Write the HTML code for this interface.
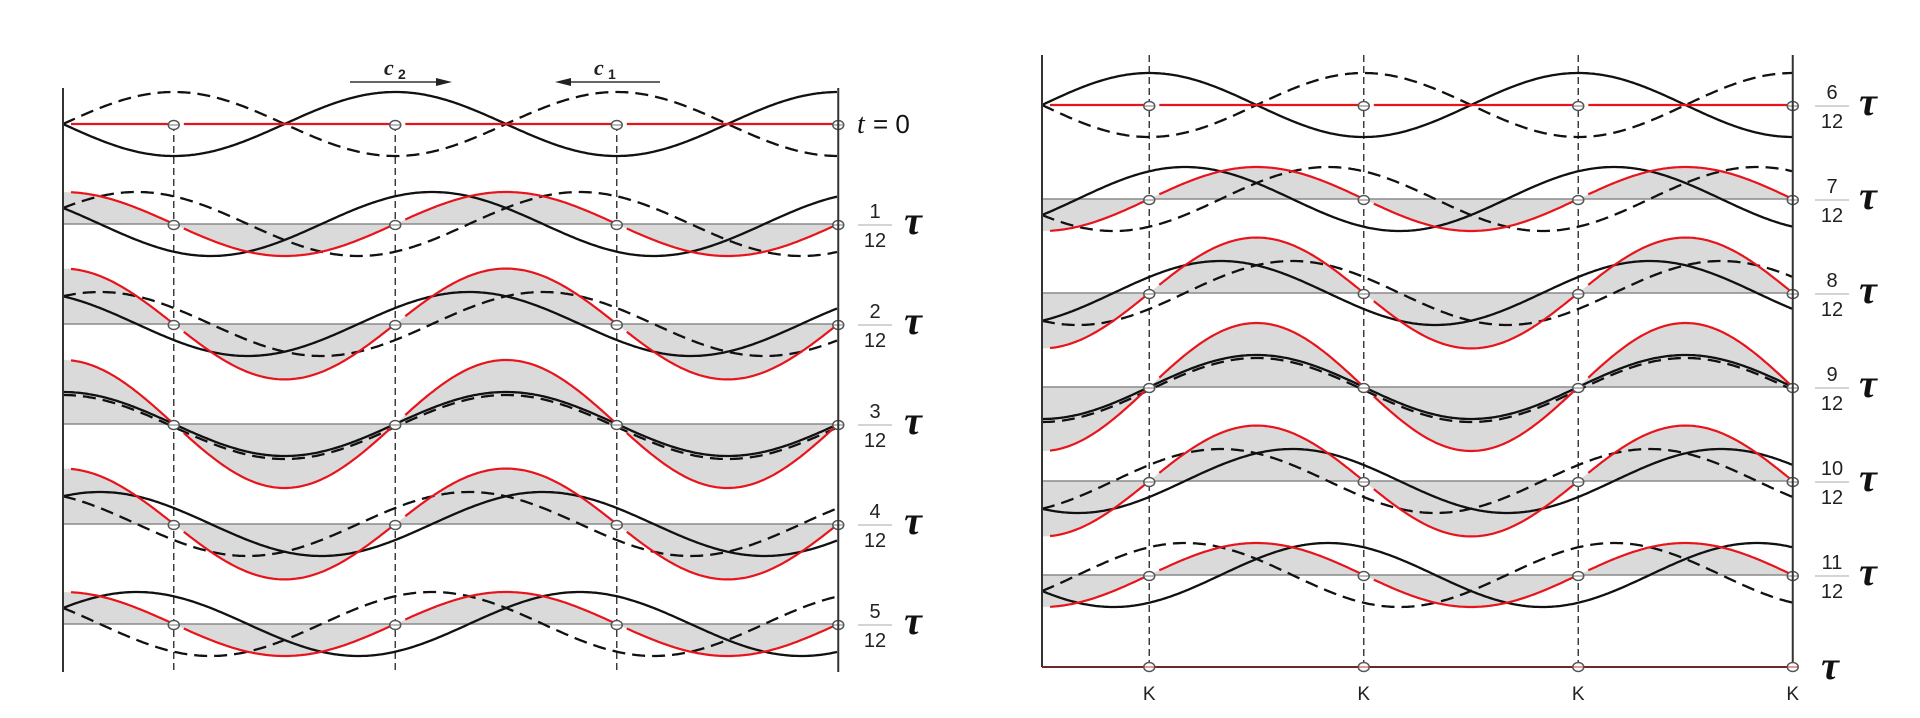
<!DOCTYPE html>
<html><head><meta charset="utf-8">
<style>
html,body{margin:0;padding:0;background:#fff;}
svg{display:block}
</style></head>
<body>
<svg id="s" width="1920" height="718" viewBox="0 0 1920 718" xmlns="http://www.w3.org/2000/svg"></svg>
<script>
const NS="http://www.w3.org/2000/svg";
const svg=document.getElementById('s');
function el(t,a,txt){const e=document.createElementNS(NS,t);for(const k in a)e.setAttribute(k,a[k]);if(txt!==undefined)e.textContent=txt;svg.appendChild(e);return e;}
const A=32;
function panel(x0,lam,rows,startN,top,vtop,bottom,labelX,tauX){
  const xe=x0+1.75*lam, k=2*Math.PI/lam;
  const nodes=[0.25,0.75,1.25,1.75].map(f=>x0+f*lam);
  rows.forEach((b,i)=>{
    const n=startN+i, ph=2*Math.PI*n/12;
    const red=x=>-A*Math.sin(k*(x-x0)-ph)+A*Math.sin(k*(x-x0)+ph);
    if(n!==0&&n!==6){
      let p=`M${x0},${b}`;
      for(let x=x0;x<=xe+0.01;x+=2)p+=` L${x.toFixed(1)},${(b-red(x)).toFixed(1)}`;
      p+=` L${xe},${b} Z`;
      el('path',{d:p,fill:'#dadada',stroke:'none'});
      el('line',{x1:x0,y1:b,x2:xe,y2:b,stroke:'#8a8a8a','stroke-width':1.5});
    }
  });
  nodes.slice(0,3).forEach(nx=>el('line',{x1:nx,y1:vtop,x2:nx,y2:bottom,stroke:'#333','stroke-width':1.4,'stroke-dasharray':'7 4'}));
  rows.forEach((b,i)=>{
    const n=startN+i, ph=2*Math.PI*n/12;
    const f1=x=>-A*Math.sin(k*(x-x0)-ph), f2=x=>A*Math.sin(k*(x-x0)+ph);
    const off=(n===3||n===9)?3:0;
    let p1='',p2='';
    for(let x=x0;x<=xe+0.01;x+=2){
      p1+=(p1?' L':'M')+x.toFixed(1)+','+(b-f1(x)).toFixed(1);
      p2+=(p2?' L':'M')+x.toFixed(1)+','+(b-f2(x)+off).toFixed(1);
    }
    el('path',{d:p2,fill:'none',stroke:'#111','stroke-width':2.3,'stroke-dasharray':'13 7'});
    el('path',{d:p1,fill:'none',stroke:'#111','stroke-width':2.3});
    const segs=[[x0+8,nodes[0]],[nodes[0]+10,nodes[1]],[nodes[1]+10,nodes[2]],[nodes[2]+10,nodes[3]]];
    segs.forEach(([a,c])=>{
      let p='';
      for(let x=a;x<=c+0.01;x+=2){const xx=Math.min(x,c);p+=(p?' L':'M')+xx.toFixed(1)+','+(b-f1(xx)-f2(xx)).toFixed(1);}
      el('path',{d:p,fill:'none',stroke:'#e8141c','stroke-width':2.2});
    });
    nodes.forEach(nx=>{
      el('ellipse',{cx:nx,cy:b+1,rx:5.5,ry:4.5,fill:'#fff',stroke:'#555','stroke-width':1.5});
      el('line',{x1:nx-5,y1:b+1,x2:nx+5,y2:b+1,stroke:'#777','stroke-width':1});
    });
    if(n===0){
      el('text',{x:labelX-18,y:b+9,'font-family':'Liberation Serif, serif','font-style':'italic','font-size':28,fill:'#111'},'t');
      el('text',{x:labelX-2,y:b+9,'font-family':'Liberation Sans, sans-serif','font-size':26,fill:'#111'},'= 0');
    } else {
      el('text',{x:labelX,y:b-6,'text-anchor':'middle','font-family':'Liberation Sans, sans-serif','font-size':20,fill:'#222'},String(n));
      el('line',{x1:labelX-17,y1:b+1,x2:labelX+17,y2:b+1,stroke:'#bbb','stroke-width':1.2});
      el('text',{x:labelX,y:b+23,'text-anchor':'middle','font-family':'Liberation Sans, sans-serif','font-size':20,fill:'#222'},'12');
      el('text',{x:tauX,y:b+10,'text-anchor':'middle','font-family':'Liberation Serif, serif','font-style':'italic','font-weight':'bold','font-size':40,fill:'#111'},'τ');
    }
  });
  el('line',{x1:x0,y1:top,x2:x0,y2:bottom,stroke:'#333','stroke-width':2});
  el('line',{x1:xe,y1:top,x2:xe,y2:bottom,stroke:'#333','stroke-width':2});
  return {nodes,xe};
}
const L=panel(63,443,[124,224,324,424,524,624],0,88,124,672,875,913);
const R=panel(1042,429,[105,199,293,387,481,575],6,55,55,667,1832,1868);
el('line',{x1:1042,y1:667,x2:R.xe,y2:667,stroke:'#6a2a2a','stroke-width':2});
R.nodes.forEach(nx=>{
  el('ellipse',{cx:nx,cy:667,rx:5.5,ry:4.5,fill:'#fff',stroke:'#555','stroke-width':1.5});
  el('line',{x1:nx-5,y1:667,x2:nx+5,y2:667,stroke:'#c33','stroke-width':1});
  el('text',{x:nx,y:700,'text-anchor':'middle','font-family':'Liberation Sans, sans-serif','font-size':19,fill:'#222'},'K');
});
el('text',{x:1830,y:679,'text-anchor':'middle','font-family':'Liberation Serif, serif','font-style':'italic','font-weight':'bold','font-size':40,fill:'#111'},'τ');
el('line',{x1:350,y1:82,x2:445,y2:82,stroke:'#333','stroke-width':1.5});
el('path',{d:'M452,82 L436,78 L436,86 Z',fill:'#222'});
el('line',{x1:562,y1:82,x2:660,y2:82,stroke:'#333','stroke-width':1.5});
el('path',{d:'M555,82 L571,78 L571,86 Z',fill:'#222'});
el('text',{x:384,y:75,'font-family':'Liberation Serif, serif','font-style':'italic','font-weight':'bold','font-size':22,fill:'#222'},'c');
el('text',{x:398,y:79,'font-family':'Liberation Sans, sans-serif','font-weight':'bold','font-size':14,fill:'#222'},'2');
el('text',{x:594,y:75,'font-family':'Liberation Serif, serif','font-style':'italic','font-weight':'bold','font-size':22,fill:'#222'},'c');
el('text',{x:608,y:79,'font-family':'Liberation Sans, sans-serif','font-weight':'bold','font-size':14,fill:'#222'},'1');
</script>
</body></html>
